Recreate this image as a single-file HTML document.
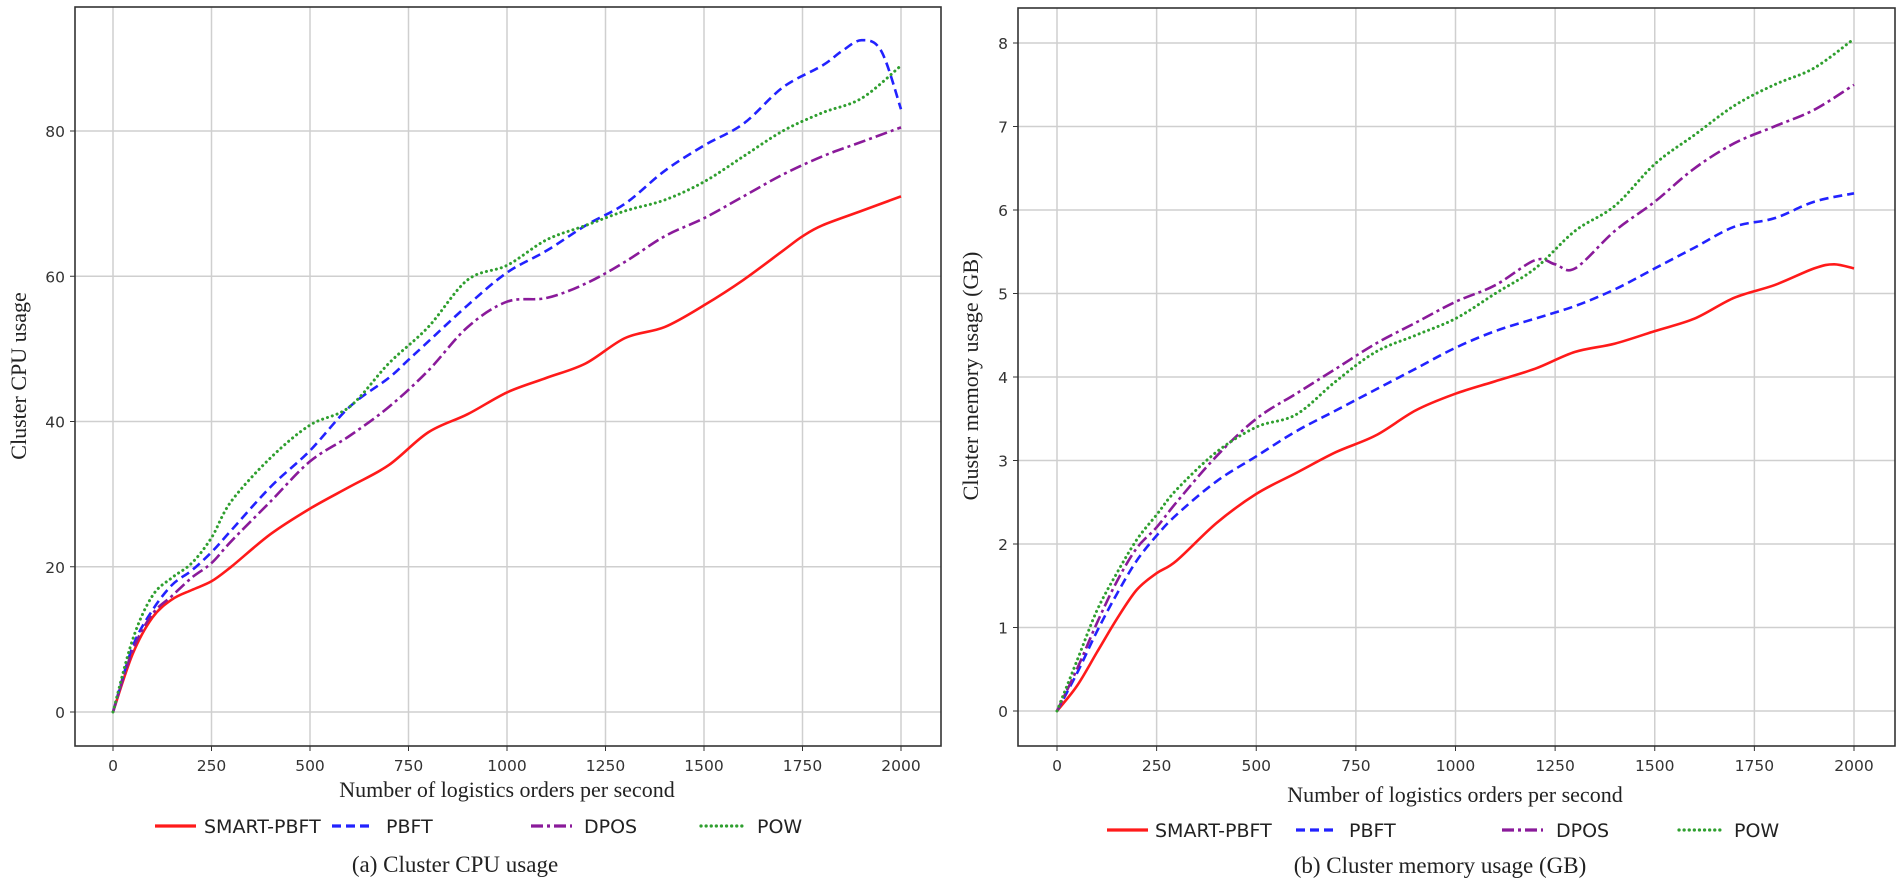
<!DOCTYPE html>
<html><head><meta charset="utf-8">
<style>
html,body{margin:0;padding:0;background:#fff;}
svg{display:block;}
.tick{font-family:"DejaVu Sans","Liberation Sans",sans-serif;font-size:15.5px;fill:#333;}
.ser{font-family:"Liberation Serif",serif;fill:#222;}
.leg{font-family:"DejaVu Sans","Liberation Sans",sans-serif;font-size:19px;fill:#222;}
</style></head>
<body>
<svg id="fig" width="1901" height="886" viewBox="0 0 1901 886" xmlns="http://www.w3.org/2000/svg"></svg>
<script>
// ---- data: chart (a) CPU ----
const cpuSmartX=[0,50,100,150,200,250,300,400,500,600,700,800,900,1000,1100,1200,1300,1400,1500,1600,1700,1750,1800,1900,2000];
const cpuSmartY=[0,8,13,15.5,16.8,18,20,24.5,28,31,34,38.5,41,44,46,48,51.5,53,56,59.5,63.5,65.5,67,69,71];
const cpuPbftX=[0,50,100,150,200,250,300,400,500,600,700,750,800,900,1000,1100,1200,1300,1400,1500,1600,1700,1800,1850,1900,1950,2000];
const cpuPbftY=[0,9,14,17.5,19.5,22,25,31,36,42,46,48.5,51,56,60.5,63.5,67,70,74.5,78,81,86,89,91,92.5,91,83];
const cpuDposX=[0,50,100,150,200,250,300,400,500,600,700,800,900,1000,1100,1200,1300,1400,1500,1600,1700,1800,1900,2000];
const cpuDposY=[0,8.5,13.5,16,18.5,20.5,23.5,29,34.5,38,42,47,53,56.5,57,59,62,65.5,68,71,74,76.5,78.5,80.5];
const cpuPowX=[0,50,100,150,200,250,300,400,500,600,700,800,900,1000,1100,1200,1300,1400,1500,1600,1700,1800,1900,2000];
const cpuPowY=[0,10,16,18.5,20.5,24,29,35,39.5,42,48,53,59.5,61.5,65,67,69,70.5,73,76.5,80,82.5,84.5,89];
// ---- data: chart (b) memory ----
const memSmartX=[0,50,100,150,200,250,300,400,500,600,700,800,900,1000,1100,1200,1300,1400,1500,1600,1700,1800,1900,1950,2000];
const memSmartY=[0,0.3,0.7,1.1,1.45,1.65,1.8,2.25,2.6,2.85,3.1,3.3,3.6,3.8,3.95,4.1,4.3,4.4,4.55,4.7,4.95,5.1,5.3,5.35,5.3];
const memPbftX=[0,50,100,150,200,250,300,400,500,600,700,800,900,1000,1100,1200,1300,1400,1500,1600,1700,1800,1900,2000];
const memPbftY=[0,0.45,0.95,1.4,1.8,2.1,2.35,2.75,3.05,3.35,3.6,3.85,4.1,4.35,4.55,4.7,4.85,5.05,5.3,5.55,5.8,5.9,6.1,6.2];
const memDposX=[0,50,100,150,200,250,300,400,500,600,700,800,900,1000,1100,1200,1250,1300,1400,1500,1600,1700,1800,1900,2000];
const memDposY=[0,0.5,1.05,1.55,1.95,2.2,2.5,3.05,3.5,3.8,4.1,4.4,4.65,4.9,5.1,5.4,5.35,5.3,5.75,6.1,6.5,6.8,7.0,7.2,7.5];
const memPowX=[0,50,100,150,200,250,300,400,500,600,700,800,900,1000,1100,1200,1300,1400,1500,1600,1700,1800,1900,2000];
const memPowY=[0,0.6,1.2,1.65,2.05,2.35,2.65,3.1,3.4,3.55,3.95,4.3,4.5,4.7,5.0,5.3,5.75,6.05,6.55,6.9,7.25,7.5,7.7,8.05];
const xTicks=[0,250,500,750,1000,1250,1500,1750,2000];
const cpuYTicks=[0,20,40,60,80];
const memYTicks=[0,1,2,3,4,5,6,7,8];
const seriesNames=["SMART-PBFT","PBFT","DPOS","POW"];

const NS="http://www.w3.org/2000/svg";
const svg=document.getElementById('fig');
function mk(tag,attrs,parent,text){const e=document.createElementNS(NS,tag);for(const k in attrs)e.setAttribute(k,attrs[k]);if(text!==undefined)e.textContent=text;(parent||svg).appendChild(e);return e;}
const styles=[
 {stroke:"#ff1a1a",dash:"",cap:"butt"},
 {stroke:"#2222ff",dash:"9,5",cap:"butt"},
 {stroke:"#8a1a9a",dash:"12,4,3,4",cap:"butt"},
 {stroke:"#2f9f2f",dash:"0.1,5",cap:"round"}
];
function smooth(pts){let d="M"+pts[0][0]+","+pts[0][1];for(let i=0;i<pts.length-1;i++){const p0=pts[Math.max(0,i-1)],p1=pts[i],p2=pts[i+1],p3=pts[Math.min(pts.length-1,i+2)];const c1x=p1[0]+(p2[0]-p0[0])/6,c1y=p1[1]+(p2[1]-p0[1])/6,c2x=p2[0]-(p3[0]-p1[0])/6,c2y=p2[1]-(p3[1]-p1[1])/6;d+=" C"+c1x.toFixed(1)+","+c1y.toFixed(1)+" "+c2x.toFixed(1)+","+c2y.toFixed(1)+" "+p2[0].toFixed(1)+","+p2[1].toFixed(1);}return d;}

function chart(cfg){
 const g=mk('g',{});
 
 
 const sx=v=>cfg.x0+(v-0)/2000*(cfg.x1-cfg.x0);
 const sy=v=>cfg.y0+(v-0)/cfg.ymax*(cfg.y1-cfg.y0);
 xTicks.forEach(t=>{const l=mk('line',{x1:sx(t),x2:sx(t),y1:cfg.top,y2:cfg.bottom,stroke:"#cfcfcf","stroke-width":1.5},g);});
 cfg.yTicks.forEach(t=>{const l=mk('line',{x1:cfg.left,x2:cfg.right,y1:sy(t),y2:sy(t),stroke:"#cfcfcf","stroke-width":1.5},g);});
 cfg.series.forEach((s,i)=>{const pts=s[0].map((x,j)=>[sx(x),sy(s[1][j])]);const p=mk('path',{d:smooth(pts),fill:"none",stroke:styles[i].stroke,"stroke-width":i==3?3:2.6,"stroke-dasharray":styles[i].dash,"stroke-linecap":styles[i].cap},g);});
 const fr=mk('rect',{x:cfg.left,y:cfg.top,width:cfg.right-cfg.left,height:cfg.bottom-cfg.top,fill:"none",stroke:"#333","stroke-width":1.6},g);
 
 xTicks.forEach(t=>{mk('line',{x1:sx(t),x2:sx(t),y1:cfg.bottom,y2:cfg.bottom+5,stroke:"#333"},g);const tx=mk('text',{x:sx(t),y:cfg.bottom+25,"text-anchor":"middle",class:"tick"},g,String(t));});
 cfg.yTicks.forEach(t=>{mk('line',{x1:cfg.left-5,x2:cfg.left,y1:sy(t),y2:sy(t),stroke:"#333"},g);const tx=mk('text',{x:cfg.left-10,y:sy(t)+6,"text-anchor":"end",class:"tick"},g,String(t));});
 const xt=mk('text',{x:cfg.xtX,y:cfg.xtY,"text-anchor":"middle",class:"ser","font-size":22},g,"Number of logistics orders per second");
 
 const yt=mk('text',{x:0,y:0,"text-anchor":"middle",class:"ser","font-size":22,transform:"translate("+cfg.ytX+","+cfg.ytY+") rotate(-90)"},g,cfg.ytitle);
 
 cfg.legend.forEach((L,i)=>{const lg=mk('g',{},g);
  mk('line',{x1:L[0],x2:L[0]+41,y1:cfg.legY,y2:cfg.legY,stroke:styles[i].stroke,"stroke-width":3.2,"stroke-dasharray":styles[i].dash,"stroke-linecap":styles[i].cap},lg);
  mk('text',{x:L[1],y:cfg.legY+7,class:"leg"},lg,seriesNames[i]);});
 const cap=mk('text',{x:cfg.capX,y:cfg.capY,"text-anchor":"middle",class:"ser","font-size":23},g,cfg.caption);
 
}
chart({name:"cpu-chart",left:75,right:941,top:7,bottom:746,x0:113,x1:901,y0:712,y1:131,ymax:80,yTicks:cpuYTicks,
 series:[[cpuSmartX,cpuSmartY],[cpuPbftX,cpuPbftY],[cpuDposX,cpuDposY],[cpuPowX,cpuPowY]],
 xtX:507,xtY:797,ytX:26,ytY:376,ytitle:"Cluster CPU usage",
 legY:826,legend:[[155,204],[332,386],[531,584],[701,757]],capX:455,capY:872,caption:"(a) Cluster CPU usage"});
chart({name:"memory-chart",left:1018,right:1895,top:8,bottom:746,x0:1057,x1:1854,y0:711,y1:43,ymax:8,yTicks:memYTicks,
 series:[[memSmartX,memSmartY],[memPbftX,memPbftY],[memDposX,memDposY],[memPowX,memPowY]],
 xtX:1455,xtY:802,ytX:978,ytY:376,ytitle:"Cluster memory usage (GB)",
 legY:830,legend:[[1107,1155],[1296,1349],[1502,1556],[1679,1734]],capX:1440,capY:873,caption:"(b) Cluster memory usage (GB)"});
</script>
</body></html>
